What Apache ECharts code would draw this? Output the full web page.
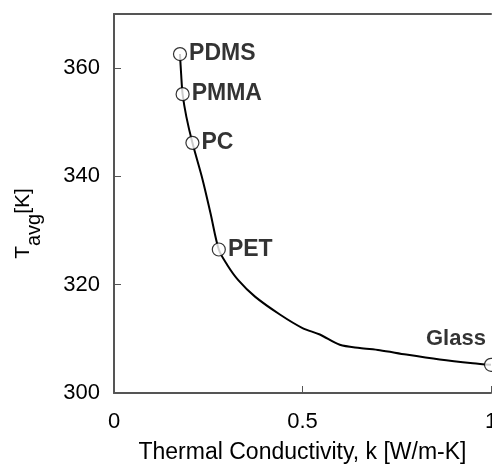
<!DOCTYPE html>
<html>
<head>
<meta charset="utf-8">
<script src="https://cdn.jsdelivr.net/npm/echarts@6/dist/echarts.min.js"></script>
<style>
  html, body { margin: 0; padding: 0; background: #fff; }
  #chart { width: 492px; height: 465px; }
</style>
</head>
<body>
<div id="chart"></div>
<script>
// Tavg vs thermal conductivity.
const materials = ["PDMS", "PMMA", "PC", "PET", "Glass"];
const kValues = [0.175, 0.182, 0.208, 0.278, 1.0];
const tValues = [362.6, 355.2, 346.2, 326.5, 305.2];

// fitted curve
const curveK = [0.175, 0.178, 0.182, 0.192, 0.208, 0.235, 0.256, 0.278, 0.30, 0.329, 0.374, 0.44, 0.5, 0.546, 0.599, 0.652, 0.705, 0.775, 0.864, 0.952, 1.0];
const curveT = [362.6, 359.0, 355.2, 351.0, 346.2, 339.4, 333.2, 326.5, 323.7, 320.9, 317.8, 314.5, 312.0, 310.8, 308.9, 308.3, 307.9, 307.1, 306.2, 305.5, 305.2];

const FONT = "'Liberation Sans', Arial, sans-serif";
const AXIS_COLOR = "#555";

const chart = echarts.init(document.getElementById("chart"), null, { renderer: "canvas" });

chart.setOption({
  animation: false,
  textStyle: { fontFamily: FONT, color: "#000" },
  grid: { left: 114, right: 1, top: 14, bottom: 72, outerBoundsMode: "none" },
  xAxis: [
    {
      type: "value", min: 0, max: 1, interval: 0.5,
      name: "Thermal Conductivity, k [W/m-K]",
      nameLocation: "middle", nameGap: 48,
      nameTextStyle: { fontSize: 23, color: "#000", fontFamily: FONT },
      axisLine: { lineStyle: { color: AXIS_COLOR, width: 2 } },
      axisTick: { inside: true, length: 7, lineStyle: { color: AXIS_COLOR, width: 1 } },
      axisLabel: { fontSize: 22, color: "#000", margin: 18, fontFamily: FONT },
      splitLine: { show: false },
    },
    {
      type: "value", min: 0, max: 1, position: "top",
      axisLine: { show: true, lineStyle: { color: AXIS_COLOR, width: 2 } },
      axisTick: { show: false }, axisLabel: { show: false }, splitLine: { show: false },
    },
  ],
  yAxis: {
    type: "value", min: 300, max: 370, interval: 20,
    name: "{a|T}{b|avg}{a|[K]}",
    nameLocation: "middle", nameGap: 70, nameRotate: 90,
    nameTextStyle: {
      padding: [0, 40, 0, 0],
      rich: {
        a: { fontSize: 21, color: "#000", fontFamily: FONT },
        b: { fontSize: 20, color: "#000", fontFamily: FONT, padding: [22, 0, 0, 0] },
      },
    },
    axisLine: { lineStyle: { color: AXIS_COLOR, width: 2 } },
    axisTick: { inside: true, length: 7, lineStyle: { color: AXIS_COLOR, width: 1 } },
    axisLabel: {
      fontSize: 22, color: "#000", margin: 14, fontFamily: FONT,
      formatter: (v) => (v % 20 === 0 ? String(v) : ""),
    },
    splitLine: { show: false },
  },
  series: [
    {
      type: "line",
      data: curveK.map((k, i) => [k, curveT[i]]),
      smooth: 0.3,
      showSymbol: false,
      lineStyle: { color: "#000", width: 2 },
      z: 2,
    },
    {
      type: "scatter",
      data: kValues.map((k, i) => ({ value: [k, tValues[i]], name: materials[i] })),
      symbol: "circle",
      symbolSize: 13,
      itemStyle: { color: "#fff", borderColor: "#000", borderWidth: 1.2 },
      label: {
        show: true,
        formatter: (p) => p.name,
        position: "right",
        distance: 2,
        fontSize: 23,
        fontWeight: "bold",
        color: "#000",
        fontFamily: FONT,
      },
      labelLayout: (p) => (p.dataIndex === 4 ? { x: 426, y: 328, align: "left", fontSize: 22 } : {}),
      z: 3,
    },
  ],
});
</script>
</body>
</html>
